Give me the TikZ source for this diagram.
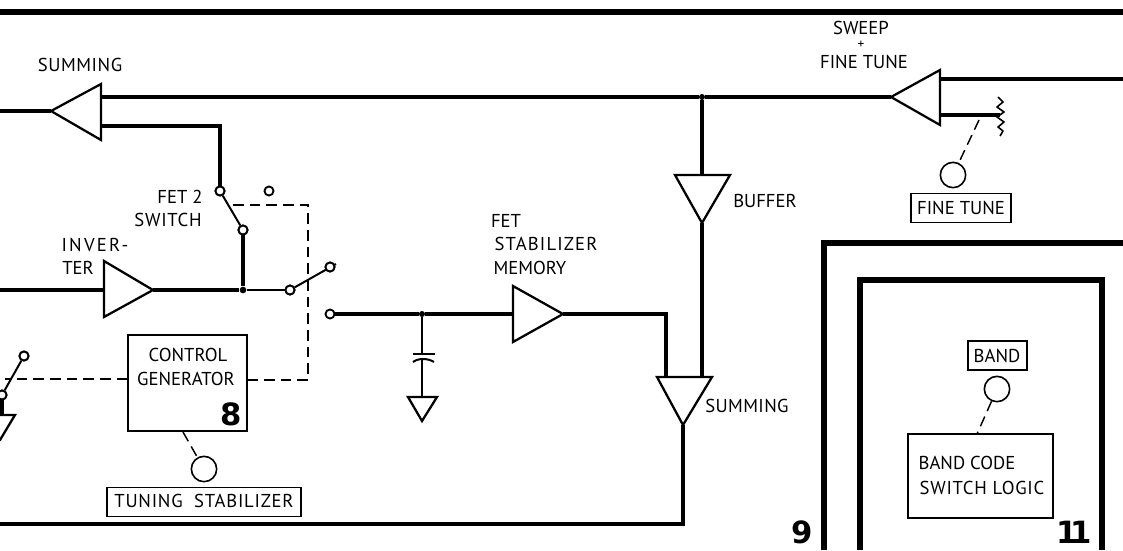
\documentclass[tikz,border=0pt]{standalone}
\usepackage{fontspec}
\setmainfont{PT Sans}
\newfontfamily\numfont{DejaVu Sans}[BoldFont={DejaVu Sans Bold}]
\tikzset{
  thick line/.style={line width=3pt,line cap=butt,line join=miter},
  thin line/.style={line width=1.5pt},
  amp/.style={line width=1.7pt,line join=miter,fill=white},
  ctrl/.style={line width=1.1pt,dash pattern=on 8pt off 4.5pt},
  frame/.style={line width=4.8pt,line join=miter},
  term/.style={circle,draw,line width=1.4pt,fill=white,inner sep=0pt,minimum size=6.8pt},
  knob/.style={circle,draw,line width=1.2pt,inner sep=0pt,minimum size=19pt},
  dot/.style={circle,fill=black,inner sep=0pt,minimum size=4.5pt},
  lbl/.style={inner sep=0pt,font=\fontsize{14}{16}\selectfont},
  lblwide/.style={inner sep=0pt,font=\fontsize{14}{16}\selectfont\addfontfeature{LetterSpace=#1}},
  panel/.style={draw,line width=1.2pt,inner sep=0pt},
  num/.style={inner sep=0pt,font=\numfont\bfseries\fontsize{23}{23}\selectfont}
}
\begin{document}
\begin{tikzpicture}[x=0.75pt,y=-0.75pt]
\useasboundingbox (0,0) rectangle (1123,550);
\clip (0,0) rectangle (1123,550);
% edge points
\coordinate (topL) at (0,12); \coordinate (topR) at (1123,12);
\coordinate (outL) at (0,111);
\coordinate (invIn) at (0,290);
\coordinate (retL) at (0,524);
\coordinate (sweepIn) at (1123,79);
\draw[line width=5pt] (topL) -- (topR);
% amplifier corners
\coordinate (sumTip) at (51,111); \coordinate (sumA) at (101,84); \coordinate (sumB) at (101,140);
\coordinate (sumIn1) at (101,97); \coordinate (sumIn2) at (101,126);
\coordinate (swpTip) at (891,97); \coordinate (swpA) at (940,70); \coordinate (swpB) at (940,125);
\coordinate (swpIn1) at (940,79); \coordinate (swpIn2) at (940,115);
\coordinate (invTip) at (153,290); \coordinate (invA) at (104,261); \coordinate (invB) at (104,317);
\coordinate (fetTip) at (563,314); \coordinate (fetA) at (513,286); \coordinate (fetB) at (513,342);
\coordinate (bufTip) at (702,223); \coordinate (bufA) at (675,175); \coordinate (bufB) at (730,175);
\coordinate (s2Tip) at (683,425); \coordinate (s2A) at (657,377); \coordinate (s2B) at (712,377);
\coordinate (gndTip) at (422,421); \coordinate (gndA) at (408,397); \coordinate (gndB) at (437,397);
% junctions
\node[dot] (j1) at (702,97) {};
\node[dot,minimum size=5pt] (j2) at (243,290) {};
\node[dot] (j3) at (422,314) {};
\coordinate (rw) at (1000,115);
% terminals
\node[term] (t1) at (220,191) {};
\node[term] (t2) at (243,230) {};
\node[term] (t3) at (269,191) {};
\node[term] (t4) at (290,290) {};
\node[term] (t5) at (330,267) {};
\node[term] (t6) at (330,314) {};
\node[term] (t7) at (24,356) {};
\node[term] (t8) at (2,395) {};
% boxes
\node[panel,minimum width=89.25pt,minimum height=72pt] (cg) at (187.5,383) {};
\node[panel,minimum width=145.5pt,minimum height=22pt] (tsb) at (204,502) {};
\node[panel,minimum width=75pt,minimum height=22pt] (ftb) at (961,208) {};
\node[panel,minimum width=44pt,minimum height=22pt] (bb) at (997.5,355.5) {};
\node[panel,minimum width=108.75pt,minimum height=63pt] (bc) at (980.5,476) {};
\node[knob] (k1) at (204,469) {};
\node[knob] (k2) at (953,175) {};
\node[knob] (k3) at (997,389) {};
% thick signal lines
\draw[thick line] (outL) -- (sumTip);
\draw[thick line] (sumIn1) -- (j1) -- (swpTip);
\draw[thick line] (sumIn2) -- (220,126) -- (t1);
\draw[thick line] (swpIn1) -- (sweepIn);
\draw[thick line] (swpIn2) -- (rw);
\draw[thick line] (t2) -- (j2);
\draw[thick line] (invIn) -- (invA |- invIn);
\draw[thick line] (invTip) -- (j2);
\draw[thick line] (t6) -- (j3) -- (fetA |- j3);
\draw[thick line] (fetTip) -- (666,314) -- (666,377);
\draw[thick line] (j1) -- (702,175);
\draw[thick line] (bufTip) -- (702,377);
\draw[thick line] (s2Tip) -- (683,524) -- (retL);
% thin signal lines
\draw[thin line] (t1) -- (t2);
\draw[thin line] (j2) -- (t4);
\draw[thin line] (t4) -- (336,264);
\draw[thin line] (t7) -- (t8);
\draw[thin line] (j3) -- (422,354);
\draw[thin line] (422,360) -- (422,397);
\draw[thin line] (413,354) -- (435,354);
\draw[thin line] (413,362) .. controls (418,358) and (428,358) .. (434,362);
% resistor
\draw[line width=1.2pt,line join=round] (998,97) -- (1003,102) -- (997,107) -- (1004,112) -- (997,117) -- (1004,122) -- (998,127) -- (1003,131) -- (1000,136);
% amplifiers
\draw[amp] (sumTip) -- (sumA) -- (sumB) -- cycle;
\draw[amp] (swpTip) -- (swpA) -- (swpB) -- cycle;
\draw[amp] (invTip) -- (invA) -- (invB) -- cycle;
\draw[amp] (fetTip) -- (fetA) -- (fetB) -- cycle;
\draw[amp] (bufTip) -- (bufA) -- (bufB) -- cycle;
\draw[amp] (s2Tip) -- (s2A) -- (s2B) -- cycle;
\draw[amp] (gndTip) -- (gndA) -- (gndB) -- cycle;
\draw[amp] (-10,440) -- (-10,415) -- (15,415) -- (0,440) -- cycle;
\draw[thick line] (t8) -- (2,415);
% control (dashed) links
\draw[ctrl] (233,205) -- (308,205) -- (308,380) -- (cg.east |- 0,380);
\draw[ctrl] (cg.west |- 0,379) -- (5,379);
\draw[ctrl] (183,432) -- (k1);
\draw[ctrl] (979,120) -- (k2);
\draw[ctrl] (k3) -- (977,434);
\node[term] at (t4) {};
\node[term] at (t5) {};
\node[term] at (t2) {};
\node[term] at (t1) {};
\node[term] at (t7) {};
\node[term] at (t8) {};
% frames
\coordinate (f1a) at (824,550); \coordinate (f1b) at (824,243); \coordinate (f1c) at (1123,243);
\coordinate (f2a) at (860,550); \coordinate (f2b) at (860,280); \coordinate (f2c) at (1102,280); \coordinate (f2d) at (1102,550);
\draw[frame] (f1a) -- (f1b) -- (f1c);
\draw[frame] (f2a) -- (f2b) -- (f2c) -- (f2d);
% labels
\node[lblwide=3] (l1) at (80,65) {SUMMING};
\node[lbl] (l2) at (861,28) {SWEEP};
\node[lbl,font=\fontsize{10}{10}\selectfont] (l3) at (861,45) {+};
\node[lbl] (l4) at (864,62) {FINE TUNE};
\node[lbl] (l5) at (180,197) {FET 2};
\node[lblwide=4] (l6) at (168,220) {SWITCH};
\node[lblwide=12] (l7) at (95,245) {INVER-};
\node[lbl] (l8) at (78,268) {TER};
\node[lbl] (l9) at (188,355) {CONTROL};
\node[lbl] (l10) at (186,379) {GENERATOR};
\node[lbl] (l11) at (765,201) {BUFFER};
\node[lbl] (l12) at (506,221) {FET};
\node[lblwide=6] (l13) at (546,244) {STABILIZER};
\node[lbl] (l14) at (530,268) {MEMORY};
\node[lblwide=2] (l15) at (747,406) {SUMMING};
\node[lblwide=4] (l16) at (204,501) {TUNING\ \ STABILIZER};
\node[lbl] (l17) at (961,208) {FINE TUNE};
\node[lbl] (l18) at (997,356) {BAND};
\node[lbl] (l19) at (967,463) {BAND CODE};
\node[lblwide=4] (l20) at (982,488) {SWITCH LOGIC};
\node[num] (n8) at (231,414) {8};
\node[num] (n9) at (802,532) {9};
\node[num] (n11) at (1074,532) {1\kern-6pt 1};
\end{tikzpicture}
\end{document}
